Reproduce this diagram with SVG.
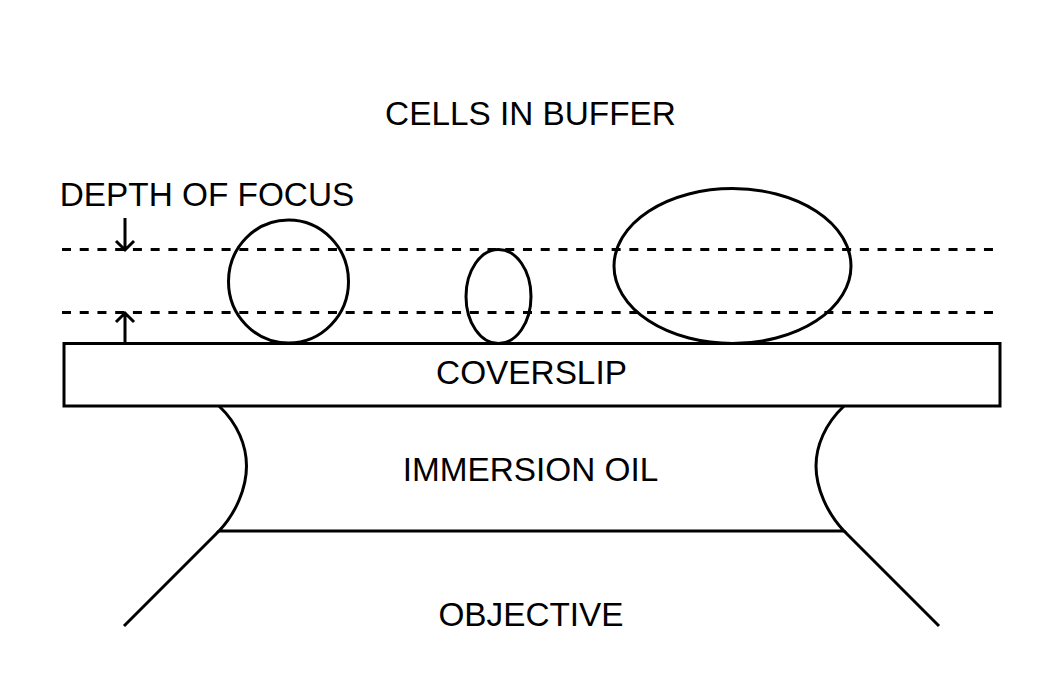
<svg xmlns="http://www.w3.org/2000/svg" width="1063" height="673" viewBox="0 0 1063 673">
<style>
.l{fill:none;stroke:#000;stroke-width:3}
.d{fill:none;stroke:#000;stroke-width:3;stroke-dasharray:9 8.730}
.a{fill:none;stroke:#000;stroke-width:3}
text{font-family:"Liberation Sans",Arial,sans-serif;font-size:33.35px;fill:#000;text-anchor:middle}
</style>
<rect width="1063" height="673" fill="#fff"/>
<g id="connectors">
<path class="d" d="M62 249.500H993"/>
<path class="d" d="M62 312.500H993"/>
<path class="a" d="M125 218V250M116 241L125 250L134 241"/>
<path class="a" d="M125 343V313M116 322L125 313L134 322"/>
</g>
<g id="cell1"><ellipse class="l" cx="288.500" cy="281.500" rx="60" ry="61.500"/></g>
<g id="cell2"><ellipse class="l" cx="498.500" cy="296.500" rx="32.500" ry="47"/></g>
<g id="cell3"><ellipse class="l" cx="732.500" cy="266" rx="118.500" ry="77.500"/></g>
<g id="coverslip"><rect class="l" x="64" y="343.500" width="936" height="62.500"/><text x="531.500" y="384">COVERSLIP</text></g>
<g id="oil"><path class="l" d="M219 406C238 424 246.500 446 246.500 466C246.500 488 236 513 219 531H844C827 513 816 488 816 466C816 446 825 424 844 406"/><text x="530.500" y="481">IMMERSION OIL</text></g>
<g id="objective"><path class="l" d="M219 531L124 626M844 531L939 626"/><text x="531" y="626">OBJECTIVE</text></g>
<g id="labels"><text x="530.500" y="125">CELLS IN BUFFER</text><text x="207" y="206">DEPTH OF FOCUS</text></g>
</svg>
